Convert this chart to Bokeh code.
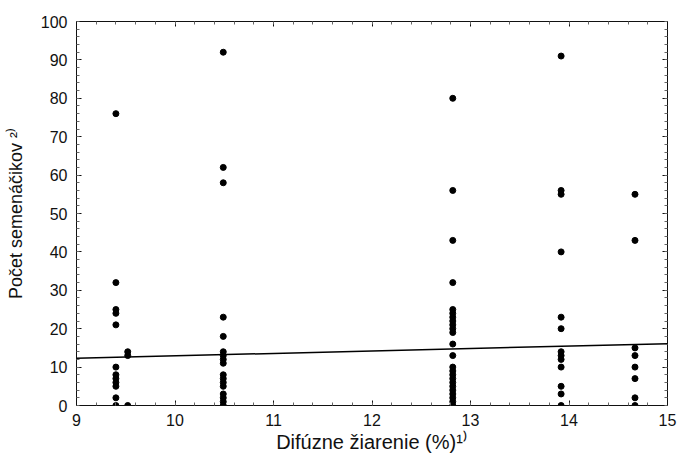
from bokeh.plotting import figure
from bokeh.models import LinearAxis, Range1d, FixedTicker, CustomJSTickFormatter
from bokeh.embed import file_html
from bokeh.resources import INLINE

# Data
x_9_4 = [9.4] * 12
y_9_4 = [76, 32, 25, 24, 21, 10, 8, 7, 6, 5, 2, 0]
x_9_5 = [9.52] * 3
y_9_5 = [14, 13, 0]
x_10_5 = [10.49] * 17
y_10_5 = [92, 62, 58, 23, 18, 14, 13, 12, 11, 8, 7, 6, 5, 3, 2, 1, 0]
x_12_8 = [12.82] * 24
y_12_8 = [80, 56, 43, 32, 25, 24, 23, 22, 21, 20, 19, 16, 13, 10, 9, 8, 7, 6, 5, 4, 3, 2, 1, 0]
x_13_9 = [13.92] * 13
y_13_9 = [91, 56, 55, 40, 23, 20, 14, 13, 12, 10, 5, 3, 0]
x_14_7 = [14.67] * 8
y_14_7 = [55, 43, 15, 13, 10, 7, 2, 0]

fit_x = [9, 15]
fit_y = [12.3, 16.1]

x_ticks = [9, 10, 11, 12, 13, 14, 15]
y_ticks = [0, 10, 20, 30, 40, 50, 60, 70, 80, 90, 100]

xs = x_9_4 + x_9_5 + x_10_5 + x_12_8 + x_13_9 + x_14_7
ys = y_9_4 + y_9_5 + y_10_5 + y_12_8 + y_13_9 + y_14_7

FONT = "Liberation Sans"

p = figure(width=678, height=456, output_backend="svg", toolbar_location=None,
           x_range=Range1d(9, 15), y_range=Range1d(0, 100),
           x_axis_location=None, y_axis_location=None,
           min_border_left=76, min_border_right=11, min_border_top=21, min_border_bottom=51)
p.grid.visible = False
p.outline_line_color = "#222222"
p.outline_line_width = 1
p.background_fill_color = "white"
p.border_fill_color = "white"

def style_axis(ax, labels=True):
    ax.axis_line_color = "#111111"
    ax.major_tick_line_color = "#111111"
    ax.minor_tick_line_color = "#666666"
    ax.major_tick_in = 5
    ax.major_tick_out = 0
    ax.minor_tick_in = 3
    ax.minor_tick_out = 0
    ax.major_label_text_font = FONT
    ax.major_label_text_font_size = "16px"
    ax.major_label_text_color = "#111111"
    ax.axis_label_text_font = FONT
    ax.axis_label_text_font_size = "20px"
    ax.axis_label_text_font_style = "normal"
    ax.axis_label_text_color = "#111111"
    if not labels:
        ax.formatter = CustomJSTickFormatter(code="return ''")
        ax.major_label_standoff = 0

x_minor = [9 + i * 0.2 for i in range(31)]
y_minor = list(range(0, 101, 2))

xb = LinearAxis(ticker=FixedTicker(ticks=x_ticks, minor_ticks=x_minor),
                axis_label="Difúzne žiarenie (%)¹⁾")
style_axis(xb)
xb.major_label_standoff = 8
xb.axis_label_standoff = 2
p.add_layout(xb, "below")

yl = LinearAxis(ticker=FixedTicker(ticks=y_ticks, minor_ticks=y_minor),
                axis_label="Počet semenáčikov ²⁾")
style_axis(yl)
yl.axis_label_text_font_size = "18px"
yl.major_label_standoff = 9
yl.axis_label_standoff = 12
p.add_layout(yl, "left")

xt = LinearAxis(ticker=FixedTicker(ticks=x_ticks, minor_ticks=x_minor))
style_axis(xt, labels=False)
p.add_layout(xt, "above")

yr = LinearAxis(ticker=FixedTicker(ticks=y_ticks, minor_ticks=y_minor))
style_axis(yr, labels=False)
p.add_layout(yr, "right")

p.line(fit_x, fit_y, line_color="black", line_width=1.5)
p.scatter(xs, ys, marker="circle", size=6, fill_color="black", line_color="black", line_width=1)

open("out.html", "w").write(file_html(p, INLINE))
